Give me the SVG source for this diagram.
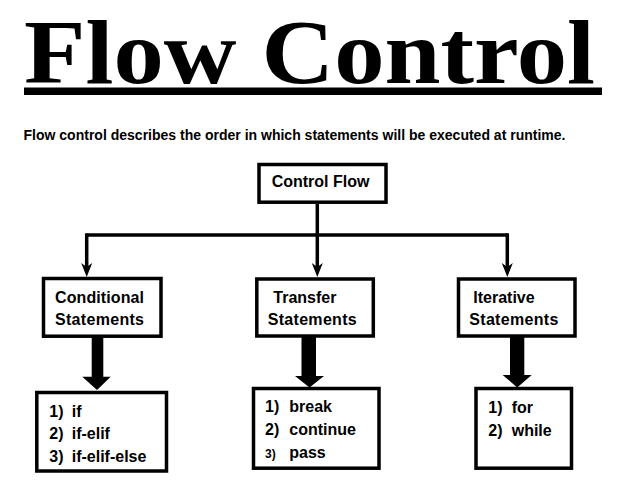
<svg xmlns="http://www.w3.org/2000/svg" width="639" height="488" viewBox="0 0 639 488">
<style>
.box{fill:#fff;stroke:#000;stroke-width:3.5}
.lbl{font-family:"Liberation Sans",Arial,sans-serif;font-weight:bold;font-size:16px;fill:#000}
.sm{font-size:12px}
.ln{fill:none;stroke:#000;stroke-width:3.5}
.big{fill:#000}
</style>
<defs>
<marker id="ah" markerUnits="userSpaceOnUse" orient="auto" refX="7" refY="0" markerWidth="16" markerHeight="12" overflow="visible">
<path d="M0,-5.5 L14,0 L0,5.5 L4,0 Z" fill="#000"/>
</marker>
</defs>
<rect width="639" height="488" fill="#fff"/>
<g id="title">
<text x="24" y="83" font-family="Liberation Serif,'Times New Roman',serif" font-weight="bold" font-size="92" textLength="571" lengthAdjust="spacingAndGlyphs" fill="#000">Flow Control</text>
<rect x="24" y="87.5" width="578" height="7.5" fill="#000"/>
</g>
<g id="subtitle">
<text x="23.5" y="140" class="lbl" style="font-size:14px" textLength="542" lengthAdjust="spacingAndGlyphs">Flow control describes the order in which statements will be executed at runtime.</text>
</g>
<g id="connectors">
<path class="ln" d="M317.3,204 V270" marker-end="url(#ah)"/>
<path class="ln" d="M86.7,235 H507.3"/>
<path class="ln" d="M86.7,233.3 V270" marker-end="url(#ah)"/>
<path class="ln" d="M507.3,233.3 V270" marker-end="url(#ah)"/>
<polygon class="big" points="91.7,337 103.3,337 103.3,376.7 110.7,376.7 97,390 82.3,376.7 91.7,376.7"/>
<polygon class="big" points="301.5,337 316,337 316,376 324,376 309.5,387.5 295,376 301.5,376"/>
<polygon class="big" points="510,337 524.3,337 524.3,375 531.7,375 517.2,387.5 502.7,375 510,375"/>
</g>
<g id="control-flow">
<rect class="box" x="259" y="164.5" width="127" height="37.7"/>
<text class="lbl" x="271.7" y="187.3">Control Flow</text>
</g>
<g id="conditional">
<rect class="box" x="43.5" y="278.5" width="117.5" height="57.7"/>
<text class="lbl" x="55" y="302.7" textLength="89">Conditional</text>
<text class="lbl" x="55" y="325.3" textLength="89">Statements</text>
</g>
<g id="transfer">
<rect class="box" x="256.8" y="279" width="116.5" height="57"/>
<text class="lbl" x="273.3" y="302.7">Transfer</text>
<text class="lbl" x="267.7" y="325.3" textLength="89">Statements</text>
</g>
<g id="iterative">
<rect class="box" x="458.5" y="279" width="116.5" height="57"/>
<text class="lbl" x="473.3" y="302.7">Iterative</text>
<text class="lbl" x="469.3" y="325.3" textLength="89">Statements</text>
</g>
<g id="conditional-list">
<rect class="box" x="36.8" y="392.5" width="129.7" height="78.5"/>
<text class="lbl" x="49.3" y="416.7">1)</text><text class="lbl" x="71.7" y="416.7">if</text>
<text class="lbl" x="49.3" y="439.3">2)</text><text class="lbl" x="71.7" y="439.3">if-elif</text>
<text class="lbl" x="49.3" y="461.7">3)</text><text class="lbl" x="71.7" y="461.7">if-elif-else</text>
</g>
<g id="transfer-list">
<rect class="box" x="253.5" y="388.5" width="125.5" height="79.7"/>
<text class="lbl" x="265" y="411.7">1)</text><text class="lbl" x="289.3" y="411.7">break</text>
<text class="lbl" x="265" y="435">2)</text><text class="lbl" x="289.3" y="435">continue</text>
<text class="lbl sm" x="265" y="458.3">3)</text><text class="lbl" x="289.3" y="458.3">pass</text>
</g>
<g id="iterative-list">
<rect class="box" x="476" y="388.5" width="95.5" height="79.7"/>
<text class="lbl" x="488.3" y="412.7">1)</text><text class="lbl" x="511.7" y="412.7">for</text>
<text class="lbl" x="488.3" y="435.7">2)</text><text class="lbl" x="511.7" y="435.7">while</text>
</g>
</svg>
